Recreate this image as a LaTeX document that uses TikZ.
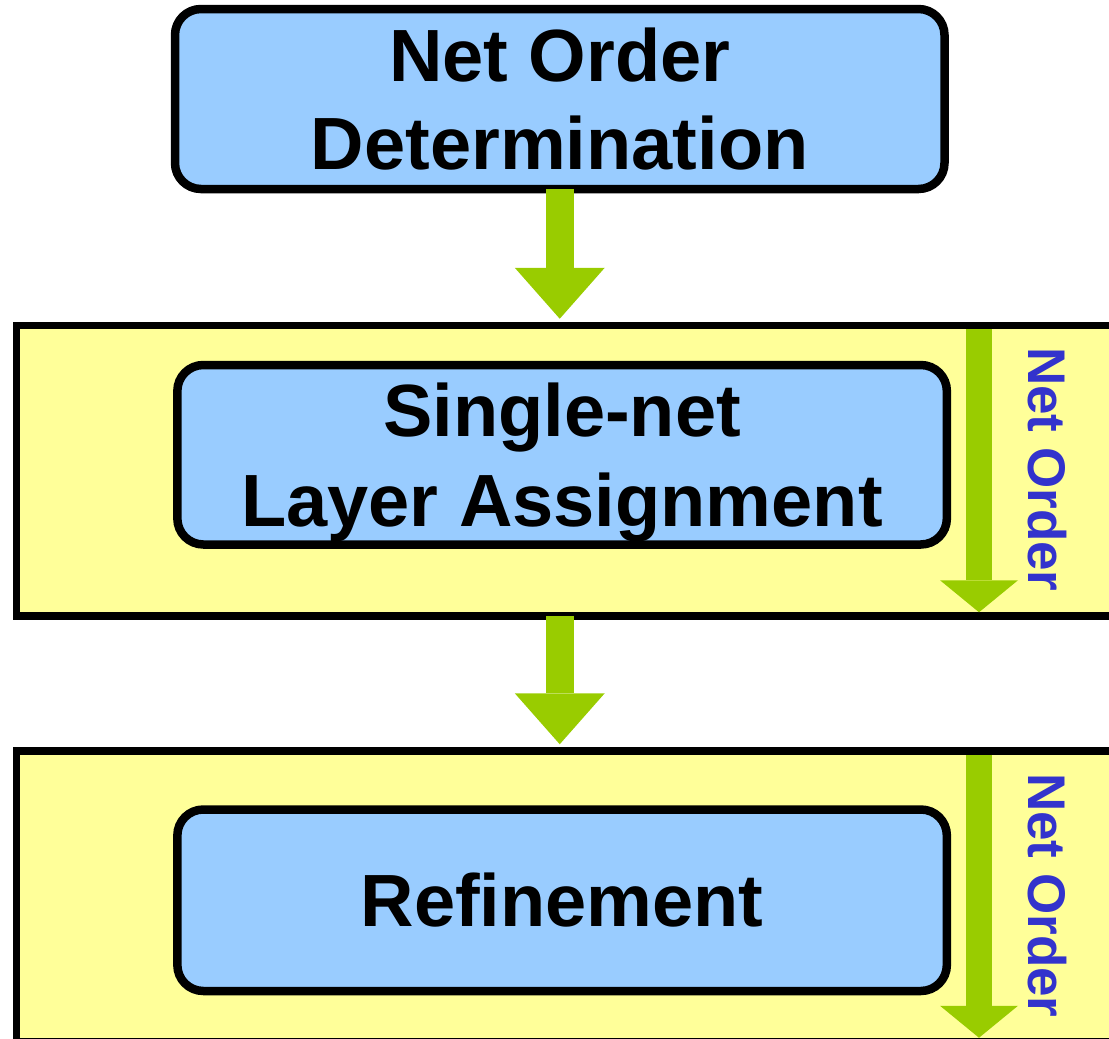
\documentclass[tikz,border=0pt]{standalone}
\usepackage{fontspec}
\setmainfont{Liberation Sans}
\usetikzlibrary{arrows.meta,calc}

\definecolor{stepblue}{HTML}{99CCFF}
\definecolor{stageyellow}{HTML}{FFFF99}
\definecolor{flowgreen}{HTML}{99CC00}
\definecolor{orderblue}{HTML}{3333CC}

\tikzset{
  stepbox/.style={draw=black, line width=8.5pt, fill=stepblue, rounded corners=26pt,
    minimum width=769.5pt, inner sep=0pt, outer sep=0pt, align=center,
    font=\fontsize{74}{88.4}\selectfont\bfseries},
  steplabel/.style={inner sep=0pt, align=center,
    font=\fontsize{74}{90}\selectfont\bfseries},
  stage/.style={draw=black, line width=7.5pt, fill=stageyellow, minimum width=1113pt,
    minimum height=290.5pt, inner sep=0pt, outer sep=0pt},
  flow/.style={draw=flowgreen, line width=28pt,
    -{Triangle[width=90pt,length=51pt,line width=0pt]}},
  orderflow/.style={draw=flowgreen, line width=26pt,
    -{Triangle[width=78pt,length=32pt,line width=0pt]}},
  ordertext/.style={rotate=-90, anchor=base west, inner sep=0pt, text=orderblue,
    font=\fontsize{53}{60}\selectfont\bfseries}
}

\begin{document}
\begin{tikzpicture}[x=1pt, y=-1pt]
  \useasboundingbox (0,0) rectangle (1109,1039);
  \clip (0,0) rectangle (1109,1039);

  % stage frames
  \node[stage] (y1) at (573.2, 470.75) {};
  \node[stage] (y2) at (573.2, 896.25) {};

  % processing steps
  \node[stepbox, minimum height=180pt]   (b1) at (559.75, 99)    {Net Order\\Determination};
  \node[stepbox, minimum height=179.5pt] (b2) at (562.1, 454.75) {};
  \node[steplabel] (t2) at ([yshift=-8pt]b2.center) {Single-net\\Layer Assignment};
  \node[stepbox, minimum height=181.5pt] (b3) at (562.1, 900.25) {Refinement};

  % flow between stages
  \draw[flow] (b1.south) -- ([yshift=6.75pt]b1.south |- y1.north);
  \draw[flow] (b1.south |- y1.south) -- ([yshift=6.75pt]b1.south |- y2.north);

  % net order arrows inside each stage
  \coordinate (nx) at (979, 0);
  \draw[orderflow] ([yshift=-3.75pt]y1.north -| nx) -- ([yshift=3.75pt]y1.south -| nx);
  \draw[orderflow] ([yshift=-3.75pt]y2.north -| nx) -- ([yshift=3.75pt]y2.south -| nx);

  \node[ordertext] (o1) at (1028, 347) {Net Order};
  \node[ordertext] (o2) at (1028, 773) {Net Order};
\end{tikzpicture}
\end{document}
